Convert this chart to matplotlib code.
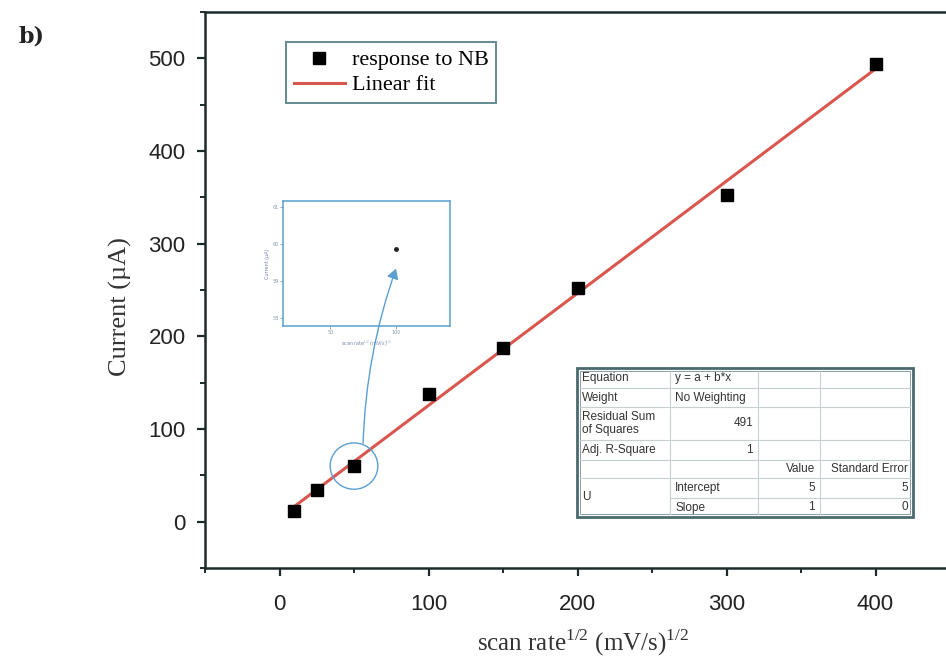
import numpy as np
import matplotlib.pyplot as plt
from matplotlib.patches import Ellipse, FancyArrowPatch, Rectangle
from matplotlib.ticker import MultipleLocator

plt.rcParams["mathtext.fontset"] = "custom"
plt.rcParams["mathtext.rm"] = "Liberation Serif"

# data
scan_rate = [10, 25, 50, 100, 150, 200, 300, 400]
current = [12, 34, 60, 138, 187, 252, 353, 494]

x_ticks = [0, 100, 200, 300, 400]
y_ticks = [0, 100, 200, 300, 400, 500]

inset_x_ticks = [50, 100]
inset_y_ticks = [58, 59, 60, 61]
inset_point = (100, 59.85)

table_rows = [
    ["Equation", "y = a + b*x", "", ""],
    ["Weight", "No Weighting", "", ""],
    ["Residual Sum\nof Squares", "491", "", ""],
    ["Adj. R-Square", "1", "", ""],
    ["", "", "Value", "Standard Error"],
    ["U", "Intercept", "5", "5"],
    ["", "Slope", "1", "0"],
]

W, H = 946, 662
fig = plt.figure(figsize=(W / 100, H / 100), dpi=100)

def fx(px):
    return px / W

def fy(py):
    return 1 - py / H

spine_col = "#1d2b2b"
fit_col = "#d9574f"
blue = "#5a9fd0"

ax_l, ax_r, ax_t, ax_b = 205, 950, 12, 568
ax = fig.add_axes([fx(ax_l), fy(ax_b), fx(ax_r) - fx(ax_l), fy(ax_t) - fy(ax_b)])
ax.set_xlim(-50, 450)
ax.set_ylim(-50, 550)

# linear fit
b, a = np.polyfit(scan_rate, current, 1)
xf = np.array([min(scan_rate), max(scan_rate)])
ax.plot(xf, a + b * xf, color=fit_col, lw=2.2, label="Linear fit", zorder=2)
ax.plot(scan_rate, current, "s", color="black", ms=8, ls="none",
        label="response to NB", zorder=3)

ax.add_patch(Ellipse((scan_rate[2], current[2]), 32, 50, fill=False,
                     ec=blue, lw=1.0, zorder=4))

ax.set_xticks(x_ticks)
ax.set_yticks(y_ticks)
ax.xaxis.set_minor_locator(MultipleLocator(50))
ax.yaxis.set_minor_locator(MultipleLocator(50))
ax.tick_params(which="major", direction="out", length=6, width=1.6,
               labelsize=16, colors=spine_col)
ax.tick_params(axis="x", which="major", pad=13)
ax.tick_params(axis="y", which="major", pad=8)
ax.tick_params(which="minor", direction="out", length=3.5, width=1.4,
               colors=spine_col)
for lab in ax.get_xticklabels() + ax.get_yticklabels():
    lab.set_fontfamily("Liberation Sans")
    lab.set_color("#222222")
for s in ax.spines.values():
    s.set_color(spine_col)
    s.set_linewidth(1.8)

ax.set_xlabel(r"scan rate$^{\mathrm{1/2}}$ (mV/s)$^{\mathrm{1/2}}$", fontsize=18,
              family="Liberation Serif", color="#333333")
ax.set_ylabel("Current (µA)", fontsize=19, family="Liberation Serif",
              color="#333333")
ax.xaxis.set_label_coords((583 - ax_l) / (ax_r - ax_l), (ax_b - 643) / (ax_b - ax_t))
ax.yaxis.set_label_coords((120 - ax_l) / (ax_r - ax_l), (ax_b - 307) / (ax_b - ax_t))
ax.xaxis.label.set_va("center")
ax.yaxis.label.set_va("center")

h, l = ax.get_legend_handles_labels()
leg = ax.legend(h[::-1], l[::-1], loc="upper left",
                bbox_to_anchor=((286 - ax_l) / (ax_r - ax_l), (ax_b - 42) / (ax_b - ax_t)),
                prop={"family": "Liberation Serif", "size": 16},
                frameon=True, fancybox=False, handlelength=2.3,
                handletextpad=0.3, borderpad=0.35, labelspacing=0.2,
                borderaxespad=0)
leg.get_frame().set_edgecolor("#3c6e78")
leg.get_frame().set_linewidth(1.4)

fig.text(fx(18), fy(37), "b)", fontsize=16, fontweight="bold",
         family="DejaVu Serif", color="#222222", va="center")

# inset
ins = fig.add_axes([fx(283), fy(326), fx(450) - fx(283), fy(201) - fy(326)])
ins.set_xlim(14, 141)
ins.set_ylim(57.78, 61.16)
ins.plot([inset_point[0]], [inset_point[1]], "o", color="#222222", ms=2.5)
ins.set_xticks(inset_x_ticks)
ins.set_yticks(inset_y_ticks)
ins.tick_params(labelsize=3.5, length=2, width=0.6, colors="#8899aa", pad=1)
for s in ins.spines.values():
    s.set_color(blue)
    s.set_linewidth(1.1)
ins.set_xlabel(r"scan rate$^{1/2}$ (mV/s)$^{1/2}$", fontsize=3.5,
               color="#7788aa", labelpad=2)
ins.set_ylabel("Current (µA)", fontsize=3.5, color="#7788aa", labelpad=2)

arrow = FancyArrowPatch((fx(363), fy(446)), (fx(397), fy(266)),
                        transform=fig.transFigure,
                        connectionstyle="arc3,rad=-0.08",
                        arrowstyle="-|>,head_length=6,head_width=3.5",
                        color=blue, lw=1.0, zorder=10)
fig.patches.append(arrow)

# fit results table
col_x = [577, 670, 758, 820, 913]
row_y = [368, 388, 407, 440, 460, 478, 498, 517]
grid_col = "#c8cfd2"
fig.add_artist(Rectangle((fx(col_x[0]), fy(row_y[-1])),
                         fx(col_x[-1]) - fx(col_x[0]),
                         fy(row_y[0]) - fy(row_y[-1]),
                         transform=fig.transFigure, fill=True, fc="white",
                         ec="#4a6a70", lw=2.0))
for xx in col_x[1:-1]:
    fig.add_artist(plt.Line2D([fx(xx)] * 2, [fy(row_y[0] + 3), fy(row_y[-1] - 3)],
                              color=grid_col, lw=0.8))
for yy in row_y[1:-1]:
    x0 = col_x[1] if yy == row_y[6] else col_x[0] + 3
    fig.add_artist(plt.Line2D([fx(x0), fx(col_x[-1] - 3)], [fy(yy)] * 2,
                              color=grid_col, lw=0.8))
fig.add_artist(Rectangle((fx(col_x[0] + 3), fy(row_y[-1] - 3)),
                         fx(col_x[-1] - 6) - fx(col_x[0]),
                         fy(row_y[0] + 3) - fy(row_y[-1] - 3),
                         transform=fig.transFigure, fill=False,
                         ec="#8aa0a5", lw=0.7))

right_cells = {(2, 1), (3, 1), (5, 2), (5, 3), (6, 2), (6, 3), (4, 2), (4, 3)}
for r, row in enumerate(table_rows):
    for c, txt in enumerate(row):
        if not txt:
            continue
        y0, y1 = row_y[r], row_y[r + 1]
        if r == 5 and c == 0:
            y1 = row_y[7]
        yc = fy((y0 + y1) / 2)
        if (r, c) in right_cells:
            xpos, ha = fx(col_x[c + 1] - 5), "right"
        else:
            xpos, ha = fx(col_x[c] + 5), "left"
        fig.text(xpos, yc, txt, fontsize=8.5, family="Liberation Sans",
                 color="#333333", ha=ha, va="center", linespacing=1.0)

fig.savefig("out.png", dpi=100)
